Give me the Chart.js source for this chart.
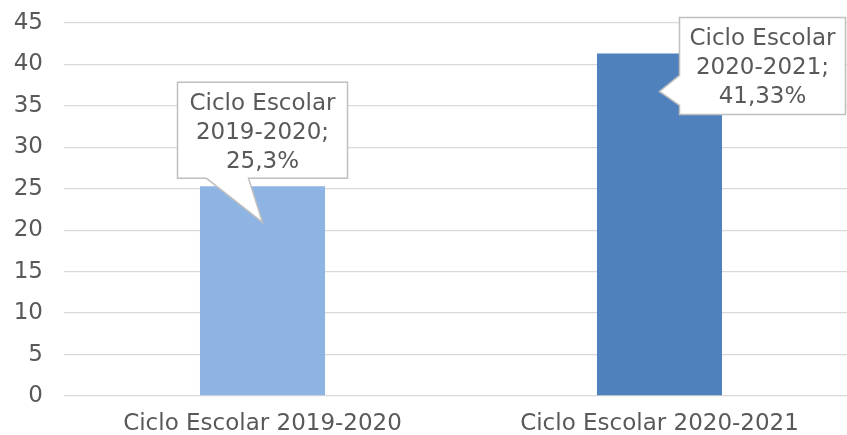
<!DOCTYPE html>
<html><head><meta charset="utf-8">
<script src="https://cdn.jsdelivr.net/npm/chart.js@4/dist/chart.umd.min.js"></script>
<style>
html,body{margin:0;padding:0;background:#fff;overflow:hidden;}
#wrap{width:860px;height:435px;position:relative;}
</style></head>
<body><div id="wrap"><canvas id="c"></canvas></div>
<script>
const categories = ["Ciclo Escolar 2019-2020", "Ciclo Escolar 2020-2021"];
const values = [25.3, 41.33];
const valueLabels = ["25,3%", "41,33%"];
const calloutLines = [["Ciclo Escolar", "2019-2020;"], ["Ciclo Escolar", "2020-2021;"]];
const barColors = ["#8EB4E3", "#4F81BD"];
const yTicks = [0,5,10,15,20,25,30,35,40,45];

const FONT = "'DejaVu Sans', sans-serif";
const TXT = "#595959";

const calloutPlugin = {
  id: 'callouts',
  afterDatasetsDraw(chart) {
    const ctx = chart.ctx;
    const meta = chart.getDatasetMeta(0);
    meta.data.forEach((bar, i) => {
      const bx = bar.x, by = bar.y;
      let box, ptr;
      if (i === 0) {
        box = {l: bx - 85, t: by - 104, r: bx + 85, b: by - 8};
        ptr = [[bx - 56, box.b], [bx, by + 36], [bx - 14, box.b]];
      } else {
        box = {l: bx + 20, t: by - 36, r: bx + 186, b: by + 61};
        ptr = [[box.l, by + 22], [bx, by + 38], [box.l, by + 52]];
      }
      ctx.save();
      ctx.beginPath();
      if (i === 0) {
        ctx.moveTo(box.l, box.t); ctx.lineTo(box.r, box.t); ctx.lineTo(box.r, box.b);
        ctx.lineTo(ptr[2][0], box.b); ctx.lineTo(ptr[1][0], ptr[1][1]); ctx.lineTo(ptr[0][0], box.b);
        ctx.lineTo(box.l, box.b); ctx.closePath();
      } else {
        ctx.moveTo(box.l, box.t); ctx.lineTo(box.r, box.t); ctx.lineTo(box.r, box.b);
        ctx.lineTo(box.l, box.b); ctx.lineTo(box.l, ptr[2][1]); ctx.lineTo(ptr[1][0], ptr[1][1]);
        ctx.lineTo(box.l, ptr[0][1]); ctx.closePath();
      }
      ctx.fillStyle = "#FFFFFF";
      ctx.fill();
      ctx.strokeStyle = "#BFBFBF";
      ctx.lineWidth = 1.5;
      ctx.stroke();
      ctx.fillStyle = TXT;
      ctx.font = "23px " + FONT;
      ctx.textAlign = "center";
      ctx.textBaseline = "alphabetic";
      const cx = (box.l + box.r) / 2;
      const lines = calloutLines[i].concat([valueLabels[i]]);
      lines.forEach((ln, k) => ctx.fillText(ln, cx, box.t + 28 + k * 29));
      ctx.restore();
    });
  }
};

new Chart(document.getElementById('c'), {
  type: 'bar',
  data: {
    labels: categories,
    datasets: [{
      data: values,
      backgroundColor: barColors,
      borderWidth: 0,
      barPercentage: 1,
      categoryPercentage: 0.315
    }]
  },
  options: {
    responsive: true,
    maintainAspectRatio: false,
    animation: false,
    devicePixelRatio: 1,
    layout: {padding: {top: 23, left: 0, right: 2, bottom: 0}},
    plugins: {legend: {display: false}, tooltip: {enabled: false}},
    scales: {
      x: {
        afterFit(a) { a.height = 39; a.paddingLeft = 0; a.paddingRight = 0; },
        grid: {display: false, drawTicks: false},
        border: {display: false},
        ticks: {color: TXT, font: {family: FONT, size: 23}, padding: 14}
      },
      y: {
        min: 0, max: 45,
        afterFit(a) { a.width = 64; a.paddingTop = 0; a.paddingBottom = 0; },
        afterBuildTicks(axis) { axis.ticks = yTicks.map(v => ({value: v})); },
        grid: {color: "#D9D9D9", lineWidth: 1.3, drawTicks: false},
        border: {display: false},
        ticks: {color: TXT, font: {family: FONT, size: 23}, padding: 21}
      }
    }
  },
  plugins: [calloutPlugin]
});
</script>
</body></html>
